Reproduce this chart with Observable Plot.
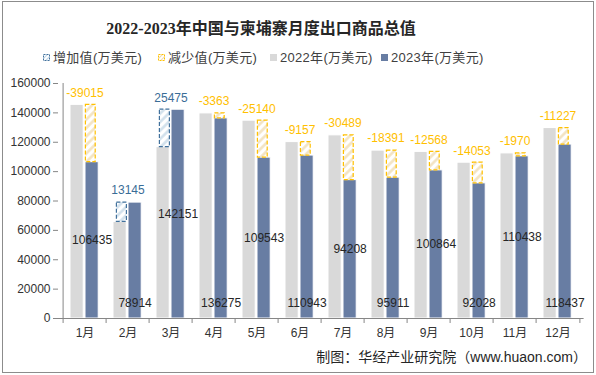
<!DOCTYPE html>
<html><head><meta charset="utf-8">
<script src="https://cdn.jsdelivr.net/npm/d3@7"></script>
<script src="https://cdn.jsdelivr.net/npm/@observablehq/plot@0.6"></script>
<style>
body{margin:0;background:#fff;}
#wrap{position:relative;width:596px;height:375px;overflow:hidden;background:#fff;font-family:"Liberation Sans","Noto Sans CJK SC",sans-serif;color:#333;}
#frame{position:absolute;left:2px;top:1px;width:592px;height:372px;border:1px solid #8c8c8c;box-sizing:border-box;pointer-events:none;}
#chart{position:absolute;left:0;top:0;}
#title{position:absolute;left:0;width:522px;top:18px;text-align:center;font-family:"Liberation Serif","Noto Sans CJK SC",serif;font-weight:bold;font-size:16px;line-height:22px;color:#262626;white-space:nowrap;}
.leg{position:absolute;top:49px;font-size:13px;line-height:18px;white-space:nowrap;color:#404040;letter-spacing:0.3px;}
.leg svg{vertical-align:middle;margin-right:3px;position:relative;top:-1px;}
#caption{position:absolute;right:9px;top:347px;font-size:14px;line-height:20px;white-space:nowrap;color:#262626;}
</style>
</head><body>
<div id="wrap">
  <div id="chart"></div>
  <div id="title">2022-2023年中国与柬埔寨月度出口商品总值</div>
  <div class="leg" style="left:43px"><svg width="7" height="7"><rect x="0.5" y="0.5" width="6" height="6" fill="url(#lgUp)" stroke="#41719C" stroke-dasharray="2,1"/></svg>增加值(万美元)</div>
  <div class="leg" style="left:158px"><svg width="7" height="7"><rect x="0.5" y="0.5" width="6" height="6" fill="url(#lgDown)" stroke="#FFC000" stroke-dasharray="2,1"/></svg>减少值(万美元)</div>
  <div class="leg" style="left:270px"><svg width="7" height="7"><rect x="0" y="0" width="7" height="7" fill="#D9D9D9"/></svg>2022年(万美元)</div>
  <div class="leg" style="left:381px"><svg width="7" height="7"><rect x="0" y="0" width="7" height="7" fill="#687DA3"/></svg>2023年(万美元)</div>
  <div id="caption">制图：华经产业研究院（www.huaon.com）</div>
  <div id="frame"></div>
</div>
<svg width="0" height="0" style="position:absolute">
  <defs>
    <pattern id="lgUp" patternUnits="userSpaceOnUse" width="3" height="3" patternTransform="rotate(45)">
      <rect width="3" height="3" fill="#fff"/><line x1="0" y1="0" x2="0" y2="3" stroke="#BCD3E6" stroke-width="2"/>
    </pattern>
    <pattern id="lgDown" patternUnits="userSpaceOnUse" width="3" height="3" patternTransform="rotate(45)">
      <rect width="3" height="3" fill="#fff"/><line x1="0" y1="0" x2="0" y2="3" stroke="#EED9AE" stroke-width="2"/>
    </pattern>
  </defs>
</svg>
<script>
const months = ["1月","2月","3月","4月","5月","6月","7月","8月","9月","10月","11月","12月"];
const v2022 = [145450, 65769, 116676, 139638, 134683, 120100, 124697, 114302, 113432, 106081, 112408, 129664];
const v2023 = [106435, 78914, 142151, 136275, 109543, 110943, 94208, 95911, 100864, 92028, 110438, 118437];
const change = [-39015, 13145, 25475, -3363, -25140, -9157, -30489, -18391, -12568, -14053, -1970, -11227];
const yTicks = [0, 20000, 40000, 60000, 80000, 100000, 120000, 140000, 160000];

const data = months.map((m, i) => ({month: m, i, v22: v2022[i], v23: v2023[i], chg: change[i]}));
const ups = data.filter(d => d.chg > 0);
const downs = data.filter(d => d.chg < 0);

const W = 596, ML = 58, MR = 12.4;
const bw = (W - ML - MR) / months.length;
const half = bw / 2;

const plot = Plot.plot({
  width: W, height: 375,
  marginLeft: ML, marginRight: MR, marginTop: 83, marginBottom: 57,
  style: {background: "transparent", fontFamily: "'Liberation Sans','Noto Sans CJK SC',sans-serif", color: "#333", overflow: "visible"},
  x: {domain: months, padding: 0, axis: null, label: null},
  y: {domain: [0, 160000], axis: null, label: null},
  marks: [
    Plot.barY(data, {x: "month", y: "v22", fill: "#D9D9D9", stroke: "#fff", strokeWidth: 1, insetLeft: 7, insetRight: bw - 21, ariaLabel: "bar2022"}),
    Plot.barY(data, {x: "month", y: "v23", fill: "#687DA3", stroke: "#fff", strokeWidth: 1, insetLeft: 22, insetRight: bw - 36, ariaLabel: "bar2023"}),
    Plot.barY(ups, {x: "month", y1: "v22", y2: "v23", fill: "url(#hatchUp)", stroke: "#41719C", strokeWidth: 1.2, strokeDasharray: "4,2", insetLeft: 10.4, insetRight: bw - 21.2, ariaLabel: "up"}),
    Plot.barY(downs, {x: "month", y1: "v23", y2: "v22", fill: "url(#hatchDown)", stroke: "#FFC000", strokeWidth: 1.2, strokeDasharray: "4,2", insetLeft: 22.4, insetRight: bw - 33, ariaLabel: "down"}),
    Plot.ruleY([0], {stroke: "#868686"}),
    Plot.ruleX([months[0]], {x: d => d, dx: -half, y1: 0, y2: 160000, stroke: "#868686"}),
    Plot.ruleX(months, {x: d => d, dx: -half, y1: 0, y2: -3400, stroke: "#868686"}),
    Plot.ruleX([months[months.length - 1]], {x: d => d, dx: half, y1: 0, y2: -3400, stroke: "#868686"}),
    Plot.axisY({ticks: yTicks, tickSize: 5, tickPadding: 3, tickFormat: d => String(d), fontSize: 12, stroke: "#868686", fill: "#333", label: null}),
    Plot.axisX({tickSize: 0, tickPadding: 10, fontSize: 12, fill: "#333", label: null}),
    Plot.text(ups, {x: "month", y: d => Math.max(d.v22, d.v23), text: d => String(d.chg), dy: -12, fill: "#3A6D97", fontSize: 12}),
    Plot.text(downs, {x: "month", y: d => Math.max(d.v22, d.v23), text: d => String(d.chg), dy: -12, fill: "#FFC000", fontSize: 12}),
    Plot.text(data.filter(d => d.i % 2 === 0), {x: "month", y: d => d.v23 / 2, text: d => String(d.v23), dx: 7.1, fill: "#262626", fontSize: 12}),
    Plot.text(data.filter(d => d.i % 2 === 1), {x: "month", y: 0, text: d => String(d.v23), dx: 7.1, dy: -15, fill: "#262626", fontSize: 12})
  ]
});

const svg = d3.select(plot);
const defs = svg.insert("defs", ":first-child");
const up = defs.append("pattern").attr("id", "hatchUp").attr("patternUnits", "userSpaceOnUse").attr("width", 6).attr("height", 6).attr("patternTransform", "rotate(45)");
up.append("rect").attr("width", 6).attr("height", 6).attr("fill", "#fff");
up.append("line").attr("x1", 1.5).attr("y1", 0).attr("x2", 1.5).attr("y2", 6).attr("stroke", "#CFDFEB").attr("stroke-width", 2.5);
const dn = defs.append("pattern").attr("id", "hatchDown").attr("patternUnits", "userSpaceOnUse").attr("width", 6).attr("height", 6).attr("patternTransform", "rotate(45)");
dn.append("rect").attr("width", 6).attr("height", 6).attr("fill", "#fff");
dn.append("line").attr("x1", 1.5).attr("y1", 0).attr("x2", 1.5).attr("y2", 6).attr("stroke", "#F2E2C0").attr("stroke-width", 2.5);
svg.selectAll('g[aria-label="bar2022"], g[aria-label="bar2023"]').style("filter", "drop-shadow(4px 0px 2px rgba(0,0,0,0.35))");

document.getElementById("chart").appendChild(plot);
</script>
</body></html>
